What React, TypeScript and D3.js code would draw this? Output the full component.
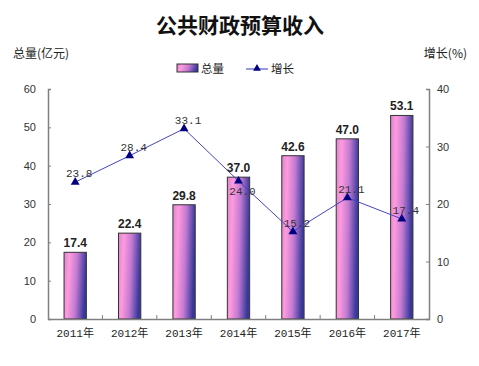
import * as d3 from "d3";
import { useLayoutEffect, useRef } from "react";

const W = 479;
const H = 366;

const years = ["2011年", "2012年", "2013年", "2014年", "2015年", "2016年", "2017年"];
const totals = [17.4, 22.4, 29.8, 37.0, 42.6, 47.0, 53.1];
const growth = [23.8, 28.4, 33.1, 24.0, 15.2, 21.1, 17.4];
const leftTicks = [0, 10, 20, 30, 40, 50, 60];
const rightTicks = [0, 10, 20, 30, 40];

const plot = { left: 48, right: 429, top: 89, bottom: 319 };

const sans = "Arial, 'Liberation Sans', 'Noto Sans CJK SC', sans-serif";
const mono = "'Liberation Mono', 'DejaVu Sans Mono', 'Noto Sans CJK SC', monospace";
const cjk = "'Noto Sans CJK SC', sans-serif";

const App = () => {
  const ref = useRef<SVGSVGElement>(null);

  useLayoutEffect(() => {
    const svg = d3.select(ref.current);
    svg.selectAll("*").remove();

    const x = d3.scaleBand().domain(years).range([plot.left, plot.right]).padding(0);
    const yL = d3.scaleLinear().domain([0, 60]).range([plot.bottom, plot.top]);
    const yR = d3.scaleLinear().domain([0, 40]).range([plot.bottom, plot.top]);
    const barW = x.bandwidth() * 0.41;
    const cx = (d: string) => (x(d) as number) + x.bandwidth() / 2;

    const defs = svg.append("defs");
    const grad = defs.append("linearGradient").attr("id", "barGrad").attr("x1", 0).attr("y1", 0).attr("x2", 1).attr("y2", 0.15);
    [
      [0, "#dc86cf"],
      [0.25, "#ff9ade"],
      [0.6, "#c27ad2"],
      [1, "#38389c"],
    ].forEach(([o, c]) => grad.append("stop").attr("offset", o as number).attr("stop-color", c as string));

    // title
    svg.append("text").attr("x", 240).attr("y", 33).attr("text-anchor", "middle")
      .attr("font-family", cjk).attr("font-size", 21).attr("font-weight", 700).attr("fill", "#111")
      .text("公共财政预算收入");

    svg.append("text").attr("x", 13).attr("y", 58).attr("font-family", cjk).attr("font-size", 12).attr("fill", "#222").text("总量(亿元)");
    svg.append("text").attr("x", 467).attr("y", 58).attr("text-anchor", "end").attr("font-family", cjk).attr("font-size", 12).attr("fill", "#222").text("增长(%)");

    // legend
    const lg = svg.append("g");
    lg.append("rect").attr("x", 177).attr("y", 64).attr("width", 21).attr("height", 8)
      .attr("fill", "url(#barGrad)").attr("stroke", "#333").attr("stroke-width", 1);
    lg.append("text").attr("x", 201).attr("y", 73).attr("font-family", cjk).attr("font-size", 11.5).attr("fill", "#222").text("总量");
    lg.append("line").attr("x1", 246).attr("x2", 268).attr("y1", 69).attr("y2", 69).attr("stroke", "#3333bb").attr("stroke-width", 1);
    lg.append("path").attr("d", d3.symbol(d3.symbolTriangle, 26)()).attr("transform", "translate(257,68.5)").attr("fill", "#000080");
    lg.append("text").attr("x", 271).attr("y", 73).attr("font-family", cjk).attr("font-size", 11.5).attr("fill", "#222").text("增长");

    // bars
    svg.append("g").selectAll("rect").data(totals).enter().append("rect")
      .attr("x", (_d, i) => cx(years[i]) - barW / 2)
      .attr("y", (d) => yL(d))
      .attr("width", barW)
      .attr("height", (d) => plot.bottom - yL(d))
      .attr("fill", "url(#barGrad)")
      .attr("stroke", "#333")
      .attr("stroke-width", 1);

    svg.append("g").selectAll("text").data(totals).enter().append("text")
      .attr("x", (_d, i) => cx(years[i]))
      .attr("y", (d) => yL(d) - 5)
      .attr("text-anchor", "middle")
      .attr("font-family", sans).attr("font-size", 12).attr("font-weight", 700).attr("fill", "#222")
      .text((d) => d.toFixed(1));

    // axes
    const axisColor = "#808080";
    const gl = svg.append("g").attr("transform", `translate(${plot.left},0)`)
      .call(d3.axisRight(yL).tickValues(leftTicks).tickSize(3).tickFormat(() => ""));
    const gr = svg.append("g").attr("transform", `translate(${plot.right},0)`)
      .call(d3.axisLeft(yR).tickValues(rightTicks).tickSize(3).tickFormat(() => ""));
    const gb = svg.append("g").attr("transform", `translate(0,${plot.bottom})`)
      .call(d3.axisTop(x).tickSize(0).tickFormat(() => ""));
    [gl, gr, gb].forEach((g) => {
      g.select(".domain").attr("stroke", axisColor).attr("stroke-width", 1.5);
      g.selectAll(".tick line").attr("stroke", axisColor);
    });
    // category separator ticks
    svg.append("g").selectAll("line").data(years.slice(1)).enter().append("line")
      .attr("x1", (d) => x(d) as number).attr("x2", (d) => x(d) as number)
      .attr("y1", plot.bottom).attr("y2", plot.bottom - 4)
      .attr("stroke", axisColor);

    svg.append("g").selectAll("text").data(leftTicks).enter().append("text")
      .attr("x", 36).attr("y", (d) => yL(d) + 4).attr("text-anchor", "end")
      .attr("font-family", sans).attr("font-size", 11).attr("fill", "#333")
      .text((d) => d);
    svg.append("g").selectAll("text").data(rightTicks).enter().append("text")
      .attr("x", 437).attr("y", (d) => yR(d) + 4)
      .attr("font-family", sans).attr("font-size", 11).attr("fill", "#333")
      .text((d) => d);

    svg.append("g").selectAll("text").data(years).enter().append("text")
      .attr("x", (d) => cx(d)).attr("y", 337).attr("text-anchor", "middle")
      .attr("font-family", mono).attr("font-size", 11).attr("fill", "#222")
      .text((d) => d);

    // growth line
    const line = d3.line<number>().x((_d, i) => cx(years[i])).y((d) => yR(d));
    svg.append("path").attr("d", line(growth) as string).attr("fill", "none").attr("stroke", "#4444c4").attr("stroke-width", 1);
    svg.append("g").selectAll("path").data(growth).enter().append("path")
      .attr("d", d3.symbol(d3.symbolTriangle, 34)() as string)
      .attr("transform", (d, i) => `translate(${cx(years[i])},${yR(d)})`)
      .attr("fill", "#000080");

    svg.append("g").selectAll("text").data(growth).enter().append("text")
      .attr("x", (_d, i) => cx(years[i]) + 4)
      .attr("y", (d, i) => (i === 3 ? yR(d) + 14 : yR(d) - 5))
      .attr("text-anchor", "middle")
      .attr("font-family", mono).attr("font-size", 11).attr("fill", "#333")
      .text((d) => d.toFixed(1));
  }, []);

  return (
    <div style={{ position: "absolute", left: 0, top: 0 }}>
      <svg ref={ref} width={W} height={H} style={{ display: "block", background: "#fff" }}></svg>
    </div>
  );
};

export default App;
